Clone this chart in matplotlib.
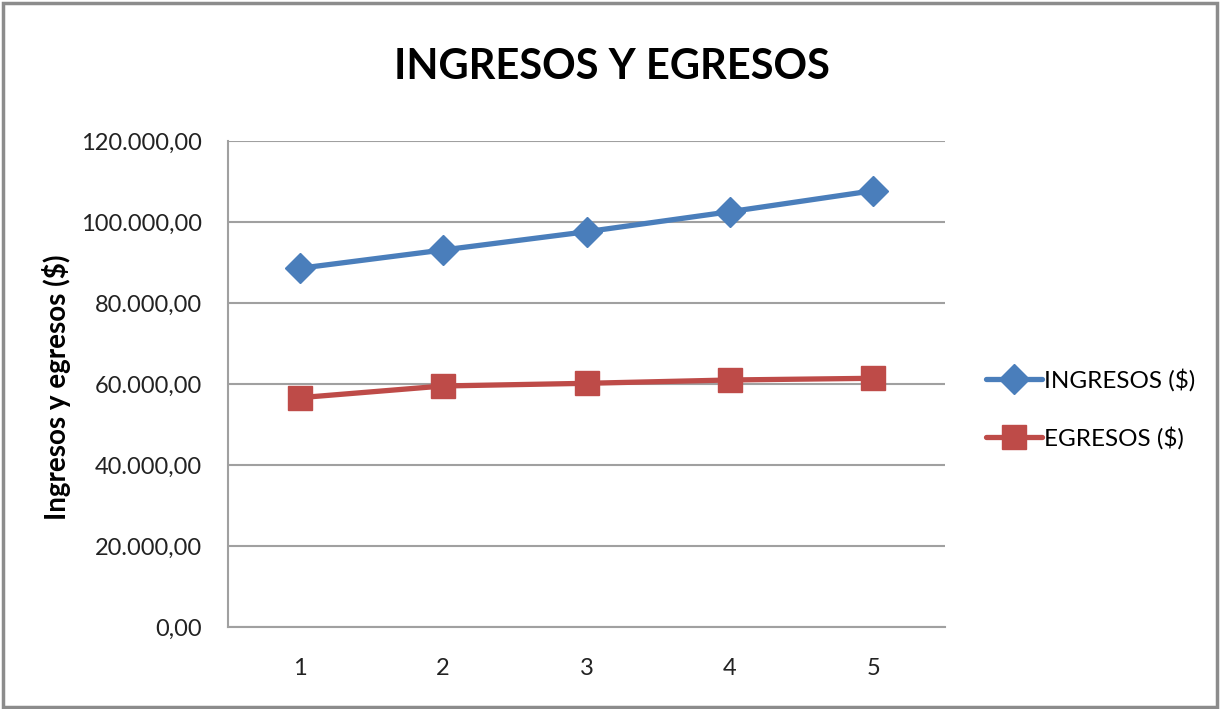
import matplotlib
matplotlib.use("Agg")
import matplotlib.pyplot as plt
from matplotlib.patches import Rectangle

categories = ["1", "2", "3", "4", "5"]
ingresos = [88570, 93090, 97600, 102540, 107730]
egresos = [56620, 59510, 60170, 60990, 61410]
yticks = [0, 20000, 40000, 60000, 80000, 100000, 120000]
ytick_labels = ["0,00", "20.000,00", "40.000,00", "60.000,00", "80.000,00", "100.000,00", "120.000,00"]

plt.rcParams['font.family'] = ['Lato', 'DejaVu Sans']

W, H = 1220, 709
fig = plt.figure(figsize=(W / 100, H / 100), dpi=100)
ax = fig.add_axes([228 / W, 1 - 627 / H, (945 - 228) / W, (627 - 141) / H])

x = list(range(len(categories)))
blue = "#4A7EBB"
red = "#BE4B48"
ax.plot(x, ingresos, color=blue, lw=3.8, marker="D", ms=15, markeredgecolor=blue,
        label="INGRESOS ($)", solid_capstyle="round")
ax.plot(x, egresos, color=red, lw=3.8, marker="s", ms=17, markeredgecolor=red,
        label="EGRESOS ($)", solid_capstyle="round")

ax.set_xlim(-0.5, len(categories) - 0.5)
ax.set_ylim(0, 120000)
ax.set_xticks(x)
ax.set_xticklabels(categories)
ax.set_yticks(yticks)
ax.set_yticklabels(ytick_labels)
ax.tick_params(axis="both", length=0, labelsize=17, colors="#222222")
ax.tick_params(axis="x", pad=22)
ax.tick_params(axis="y", pad=19)
ax.grid(axis="y", color="#A0A0A0", lw=1.5)
ax.set_axisbelow(True)
for s in ["top", "right"]:
    ax.spines[s].set_visible(False)
for s in ["left", "bottom"]:
    ax.spines[s].set_color("#A0A0A0")
    ax.spines[s].set_linewidth(1.5)

ax.set_ylabel("Ingresos y egresos ($)", fontsize=20, fontweight="bold")
ax.yaxis.set_label_coords((71 - 228) / (945 - 228), (627 - 387) / (627 - 141))

fig.text(612 / W, 1 - 67 / H, "INGRESOS Y EGRESOS", ha="center", va="center",
         fontsize=30, fontweight="bold")

leg = fig.legend(loc="center left", bbox_to_anchor=(986 / W, 1 - 409 / H), frameon=False,
                 fontsize=17.5, handlelength=2.3, handletextpad=0.1, labelspacing=1.45,
                 borderaxespad=0, borderpad=0)

fig.patches.append(Rectangle((3 / W, 2 / H), (1217 - 3) / W, (706 - 2) / H,
                             transform=fig.transFigure, fill=False,
                             edgecolor="#8C8C8C", lw=2.5))

fig.savefig("out.png", dpi=100)
